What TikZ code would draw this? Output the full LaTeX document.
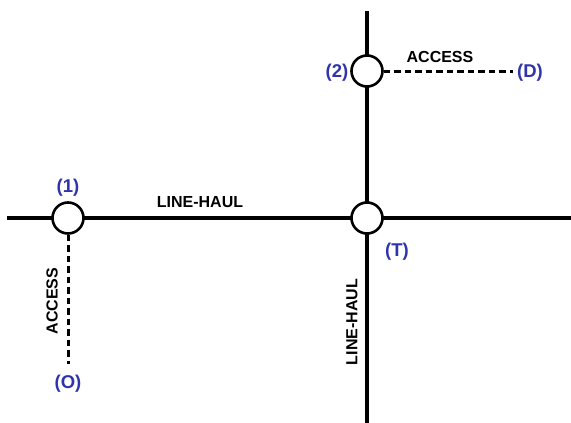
\documentclass[tikz,border=0pt]{standalone}
\usepackage{fontspec}
\setmainfont{Liberation Sans}
\begin{document}
\begin{tikzpicture}[x=1pt,y=-1pt,
  stop/.style={circle,draw=black,line width=2.6pt,fill=white,minimum size=31pt,inner sep=0pt},
  road/.style={line width=3.2pt,black},
  acc/.style={line width=3pt,black,dash pattern=on 6.5pt off 4pt},
  lbl/.style={font=\fontsize{16}{18}\selectfont\bfseries,text=black,inner sep=0pt},
  tag/.style={font=\fontsize{18.5}{20}\selectfont\bfseries,text=labblue,inner sep=0pt}]
\definecolor{labblue}{RGB}{48,52,170}
\useasboundingbox (0,0) rectangle (571,423);
\coordinate (W) at (7,218);
\coordinate (E) at (571,218);
\coordinate (N) at (367,11);
\coordinate (S) at (367,423);
\draw[road] (W) -- (E);
\draw[road] (N) -- (S);
\node[stop] (n1) at (68,218) {};
\node[stop] (nT) at (367,218) {};
\node[stop] (n2) at (367,71) {};
\node[tag] (D) at (530,73) {(D)};
\node[tag] (O) at (68,384) {(O)};
\coordinate (Dend) at (513,71);
\coordinate (Oend) at (68,364);
\draw[acc] (n2.east) -- (Dend);
\draw[acc] (n1.south) -- (Oend);
\node[tag] (l1) at (68,188) {(1)};
\node[tag] (l2) at (337,73) {(2)};
\node[tag] (lT) at (397,252) {(T)};
\node[lbl] (a1) at (440,57) {ACCESS};
\node[lbl,rotate=90] (a2) at (52,301) {ACCESS};
\node[lbl] (h1) at (200,202) {LINE-HAUL};
\node[lbl,rotate=90] (h2) at (352,322) {LINE-HAUL};
\end{tikzpicture}
\end{document}
